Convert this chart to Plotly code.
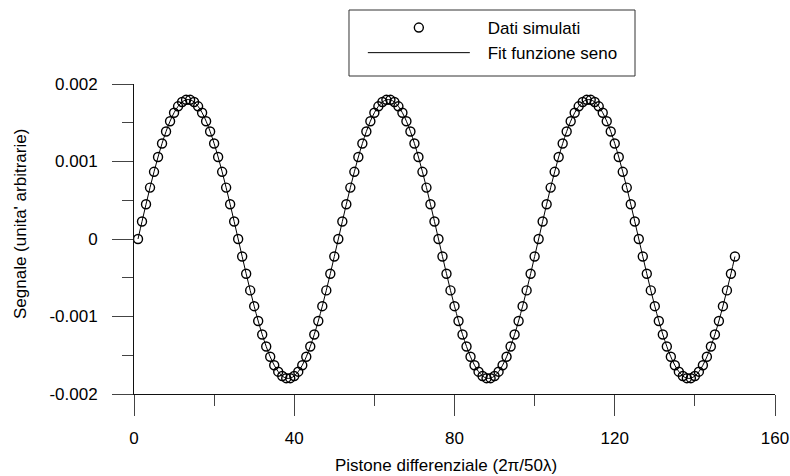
import plotly.graph_objects as go

# posizione del pistone (passi) e segnale simulato
pistone = list(range(1, 151))
segnale = [
    0.0, 0.000226, 0.000448, 0.000663, 0.000867, 0.001058, 0.001232, 0.001387, 0.001520, 0.001629,
    0.001712, 0.001768, 0.001796, 0.001796, 0.001768, 0.001712, 0.001629, 0.001520, 0.001387, 0.001232,
    0.001058, 0.000867, 0.000663, 0.000448, 0.000226, 0.0, -0.000226, -0.000448, -0.000663, -0.000867,
    -0.001058, -0.001232, -0.001387, -0.001520, -0.001629, -0.001712, -0.001768, -0.001796, -0.001796, -0.001768,
    -0.001712, -0.001629, -0.001520, -0.001387, -0.001232, -0.001058, -0.000867, -0.000663, -0.000448, -0.000226,
    0.0, 0.000226, 0.000448, 0.000663, 0.000867, 0.001058, 0.001232, 0.001387, 0.001520, 0.001629,
    0.001712, 0.001768, 0.001796, 0.001796, 0.001768, 0.001712, 0.001629, 0.001520, 0.001387, 0.001232,
    0.001058, 0.000867, 0.000663, 0.000448, 0.000226, 0.0, -0.000226, -0.000448, -0.000663, -0.000867,
    -0.001058, -0.001232, -0.001387, -0.001520, -0.001629, -0.001712, -0.001768, -0.001796, -0.001796, -0.001768,
    -0.001712, -0.001629, -0.001520, -0.001387, -0.001232, -0.001058, -0.000867, -0.000663, -0.000448, -0.000226,
    0.0, 0.000226, 0.000448, 0.000663, 0.000867, 0.001058, 0.001232, 0.001387, 0.001520, 0.001629,
    0.001712, 0.001768, 0.001796, 0.001796, 0.001768, 0.001712, 0.001629, 0.001520, 0.001387, 0.001232,
    0.001058, 0.000867, 0.000663, 0.000448, 0.000226, 0.0, -0.000226, -0.000448, -0.000663, -0.000867,
    -0.001058, -0.001232, -0.001387, -0.001520, -0.001629, -0.001712, -0.001768, -0.001796, -0.001796, -0.001768,
    -0.001712, -0.001629, -0.001520, -0.001387, -0.001232, -0.001058, -0.000867, -0.000663, -0.000448, -0.000226,
]

x_ticks = [0, 40, 80, 120, 160]
y_ticks = [-0.002, -0.001, 0, 0.001, 0.002]
y_labels = ['-0.002', '-0.001', '0', '0.001', '0.002']

FONT = 'Arial, Liberation Sans, sans-serif'
GAP = '\u00a0\u00a0\u2009'  # spazio tra simbolo e testo in legenda

fig = go.Figure()

fig.add_trace(go.Scatter(
    x=pistone, y=segnale, mode='markers', name=GAP + 'Dati simulati',
    marker=dict(symbol='circle-open', size=9, color='black', line=dict(width=1.4, color='black')),
))
fig.add_trace(go.Scatter(
    x=pistone, y=segnale, mode='lines', name=GAP + 'Fit funzione seno',
    line=dict(color='black', width=1, shape='spline'),
))

fig.update_layout(
    width=790, height=476,
    margin=dict(l=134, r=15, t=84, b=82, autoexpand=False),
    plot_bgcolor='white', paper_bgcolor='white',
    font=dict(family=FONT, size=17, color='black'),
    showlegend=True,
    legend=dict(
        x=0.357, y=1.2387, xanchor='left', yanchor='top',
        borderwidth=0, bgcolor='rgba(0,0,0,0)',
        itemwidth=102, font=dict(size=17),
        tracegroupgap=0,
    ),
    shapes=[dict(
        type='rect', xref='paper', yref='paper',
        x0=0.3354, x1=0.7816, y0=1.0258, y1=1.2387,
        line=dict(color='#333333', width=1), layer='below',
    )],
    annotations=[
        dict(text="Segnale (unita' arbitrarie)", xref='paper', yref='paper',
             x=-0.178, y=0.548, textangle=-90, showarrow=False,
             xanchor='center', yanchor='middle', font=dict(size=17)),
        dict(text='Pistone differenziale (2π/50λ)', xref='paper', yref='paper',
             x=0.487, y=-0.232, showarrow=False,
             xanchor='center', yanchor='middle', font=dict(size=17)),
    ],
)

fig.update_xaxes(
    range=[0, 160], tickvals=x_ticks, showgrid=False, zeroline=False, automargin=False,
    showline=True, linecolor='#111111', linewidth=1,
    ticks='outside', ticklen=21, tickcolor='#444444', tickwidth=1,
    ticklabelstandoff=8,
    minor=dict(dtick=20, ticks='outside', ticklen=11, tickcolor='#444444', showgrid=False),
)
fig.update_yaxes(
    range=[-0.002, 0.002], tickvals=y_ticks, ticktext=y_labels, showgrid=False, zeroline=False,
    automargin=False,
    showline=True, linecolor='#111111', linewidth=1,
    ticks='outside', ticklen=21, tickcolor='#444444', tickwidth=1,
    ticklabelstandoff=11,
    minor=dict(dtick=0.0005, ticks='outside', ticklen=11, tickcolor='#444444', showgrid=False),
)

# niente margine della pagina, cosi' la figura riempie la finestra
fig.write_html('out.html', config={'displayModeBar': False},
               post_script="document.body.style.margin='0';")
